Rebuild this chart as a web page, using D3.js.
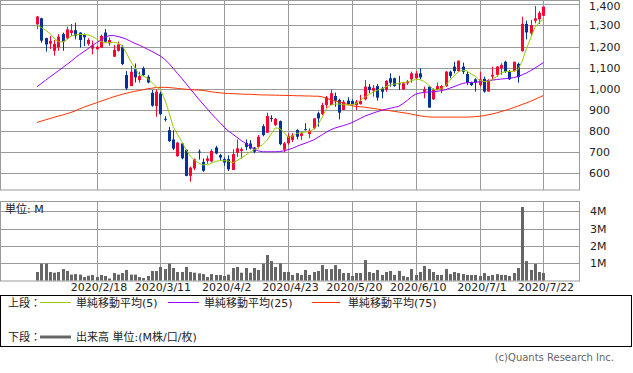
<!DOCTYPE html>
<html><head><meta charset="utf-8">
<script src="https://cdn.jsdelivr.net/npm/d3@7"></script>
<style>
html,body{margin:0;padding:0;background:#fff;}
svg{display:block;}
text{font-family:"DejaVu Sans","Noto Sans CJK JP",sans-serif;}
</style></head>
<body>
<svg id="c" width="633" height="373"></svg>
<script>
// ---- data ----
const tickLabels = ["2020/2/18","2020/3/11","2020/4/2","2020/4/23","2020/5/20","2020/6/10","2020/7/1","2020/7/22"];
const tickIndex  = [14,29,44,59,74,89,104,119];
const priceTicks = [600,700,800,900,1000,1100,1200,1300,1400];
const volTicks   = [1,2,3,4];

const open  = [1305,1334,1240,1214,1180,1196,1259,1239,1264,1278,1266,1255,1212,1190,1187,1195,1266,1215,1152,1180,
               1199,1065,1013,1093,1041,1097,1057,981,918,978,858,804,760,681,741,711,588,623,703,654,
               659,656,722,686,667,667,616,697,706,744,741,722,725,823,792,862,828,847,712,742,
               758,805,777,809,786,813,884,881,923,923,966,947,900,944,942,923,928,950,1010,991,
               1013,1002,994,1050,1050,1026,997,1026,1045,1050,1073,986,1010,950,994,997,1013,1081,1105,1084,
               1105,1070,1029,1045,1018,1047,987,1058,1066,1097,1128,1081,1084,1118,1179,1307,1262,1322,1329,1346];
const high  = [1345,1336,1242,1250,1231,1259,1266,1294,1307,1313,1268,1262,1239,1228,1203,1256,1283,1243,1207,1223,
               1207,1084,1109,1120,1081,1105,1065,994,997,986,870,820,804,749,745,714,632,670,713,670,
               683,714,730,691,675,685,714,760,722,760,757,725,781,832,887,875,862,850,748,790,
               790,808,797,837,813,860,892,934,966,997,982,953,947,960,950,947,971,1042,1023,1018,
               1023,1010,1042,1073,1053,1061,1031,1042,1081,1084,1097,1010,1010,1002,1029,1018,1084,1086,1128,1133,
               1124,1081,1034,1050,1081,1058,1045,1105,1108,1121,1133,1089,1128,1124,1341,1323,1326,1392,1368,1389];
const low   = [1282,1218,1176,1188,1157,1180,1180,1234,1250,1234,1195,1202,1204,1163,1186,1194,1220,1204,1152,1176,
               1112,994,1013,1030,1029,1060,1026,915,868,875,845,749,710,678,666,586,560,615,665,607,
               645,651,690,659,635,611,616,678,670,710,713,695,717,775,792,844,825,733,700,735,
               748,761,758,802,766,808,821,876,908,923,915,855,900,923,920,900,925,945,979,963,
               944,955,986,1010,1010,994,994,1018,1029,1045,1045,955,911,947,994,979,1010,1050,1073,1081,
               1070,1018,1013,987,1010,982,987,1042,1058,1066,1076,1042,1081,1029,1176,1234,1250,1310,1307,1345];
const close = [1342,1228,1210,1226,1212,1247,1223,1281,1277,1251,1231,1244,1231,1206,1199,1251,1223,1231,1184,1210,
               1117,1002,1081,1054,1060,1065,1030,920,986,880,855,752,717,745,671,588,627,666,700,612,
               670,706,694,675,651,619,691,718,714,725,717,702,773,781,871,858,858,738,742,777,
               780,773,789,807,802,860,860,923,960,979,944,887,939,928,926,939,942,1010,994,1005,
               958,986,1037,1029,1013,1021,1026,1034,1073,1073,1054,997,911,994,1013,1013,1081,1061,1084,1133,
               1081,1029,1018,1029,1045,987,1042,1066,1105,1113,1081,1045,1128,1055,1307,1267,1302,1333,1360,1389];
const volume = [0.50,0.98,0.98,0.50,0.46,0.50,0.67,0.56,0.35,0.38,
                0.35,0.21,0.29,0.33,0.21,0.33,0.27,0.13,0.44,0.35,
                0.44,0.62,0.35,0.35,0.21,0.15,0.27,0.56,0.56,0.79,
                0.67,0.98,0.73,0.50,0.50,0.79,0.50,0.46,0.42,0.38,
                0.21,0.38,0.33,0.33,0.27,0.35,0.73,0.79,0.46,0.73,
                0.46,0.73,0.62,0.98,1.48,1.13,0.79,1.00,0.50,0.50,
                0.33,0.44,0.33,0.62,0.33,0.50,0.56,0.90,0.67,0.67,
                0.90,0.67,0.44,0.44,0.27,0.44,0.44,1.19,0.50,0.44,
                0.62,0.33,0.50,0.56,0.33,0.56,0.27,0.21,0.67,0.33,
                0.50,0.85,0.67,0.50,0.33,0.33,0.67,0.38,0.50,0.44,
                0.38,0.33,0.33,0.33,0.27,0.44,0.27,0.33,0.38,0.33,
                0.33,0.27,0.44,0.73,4.25,1.13,0.62,0.96,0.50,0.44];
const ma5  = [1302,1290,1277,1263,1240,1223,1222,1232,1250,1256,1258,1257,1255,1248,1236,1223,1218,1219,1220,1216,
              1205,1170,1130,1100,1068,1060,1050,1030,1010,995,950,890,820,785,750,712,682,662,648,640,
              640,648,657,660,660,658,650,660,672,685,700,712,722,735,755,785,815,812,795,770,
              776,789,792,795,797,810,830,865,905,922,928,928,925,923,925,930,945,960,972,985,
              993,1000,1010,1018,1022,1026,1030,1032,1038,1045,1043,1035,1018,1000,994,1000,1015,1040,1062,1080,
              1088,1085,1070,1060,1040,1034,1036,1045,1058,1075,1081,1082,1083,1090,1130,1190,1240,1290,1315,1329];
const ma25 = [1010,1025,1040,1055,1070,1085,1100,1115,1130,1147,1162,1176,1190,1205,1218,1231,1245,1252,1252,1248,
              1242,1235,1225,1215,1207,1197,1187,1177,1166,1155,1140,1120,1097,1073,1050,1025,1000,976,951,928,
              905,882,860,840,818,800,785,770,755,742,728,715,706,702,702,702,702,703,706,712,
              718,727,735,742,750,758,770,782,795,806,814,820,826,832,840,850,860,870,878,885,
              892,898,903,908,912,917,930,945,962,975,980,983,985,986,988,991,996,1003,1010,1018,
              1025,1029,1030,1031,1033,1035,1038,1041,1044,1046,1048,1050,1053,1058,1066,1075,1086,1098,1111,1124];
const ma75 = [841,847,853,859,865,871,876,882,888,896,905,913,920,927,934,941,948,955,962,968,
              974,979,984,988,992,996,1000,1003,1006,1007,1007,1006,1004,1002,1000,998,996,995,994,992,
              989,986,983,981,979,978,977,976,975,974,974,973,972,971,971,970,970,969,969,968,
              968,967,967,966,966,965,965,962,955,948,942,938,932,926,920,916,915,913,910,907,
              904,901,899,896,893,890,887,884,880,876,872,869,867,866,866,866,866,866,866,866,
              866,866,867,868,870,873,877,881,886,892,898,904,911,918,926,933,941,950,959,968];

// ---- drawing ----
const svg = d3.select("#c");
svg.append("rect").attr("width",633).attr("height",373).attr("fill","#fff");
const GRID = "#9a9a9a", UP = "#ff0033", DOWN = "#003399", TXT = "#222";
const idx = d3.range(close.length);

const x = d3.scaleLinear().domain([0,119]).range([37,543.4]);
const y = d3.scaleLinear().domain([600,1400]).range([173.3,4.3]);
const yv = d3.scaleLinear().domain([0,4]).range([280.67,211.33]);
const px = i => Math.round(x(i));

// upper panel
const up = svg.append("g");
up.append("g").selectAll("line").data(priceTicks).join("line")
  .attr("x1",0).attr("x2",580).attr("y1",d=>Math.round(y(d))+0.5).attr("y2",d=>Math.round(y(d))+0.5)
  .attr("stroke",GRID);
up.append("g").selectAll("line").data(tickIndex).join("line")
  .attr("x1",d=>px(d)+0.5).attr("x2",d=>px(d)+0.5).attr("y1",0).attr("y2",190)
  .attr("stroke",GRID);
up.append("rect").attr("x",0.5).attr("y",0.5).attr("width",579).attr("height",189.5)
  .attr("fill","none").attr("stroke",GRID);

// price axis labels
const yAxis = d3.axisRight(y).tickValues(priceTicks).tickFormat(d3.format(",")).tickSize(0).tickPadding(0);
const ya = svg.append("g").attr("transform","translate(589,0)").call(yAxis);
ya.select(".domain").remove();
ya.selectAll("text").attr("font-size",11).attr("fill",TXT).attr("font-family","DejaVu Sans");
// keep the top label inside the picture
ya.selectAll(".tick").filter(d=>d===1400).select("text").attr("dy","0.45em");

// candles
const cg = up.append("g");
cg.selectAll("line").data(idx).join("line")
  .attr("x1",i=>px(i)+0.5).attr("x2",i=>px(i)+0.5)
  .attr("y1",i=>y(high[i])).attr("y2",i=>y(low[i]))
  .attr("stroke",i=>close[i]>=open[i]?UP:DOWN);
cg.selectAll("rect").data(idx).join("rect")
  .attr("x",i=>px(i)-1).attr("width",3)
  .attr("y",i=>y(Math.max(open[i],close[i])))
  .attr("height",i=>Math.max(1,Math.abs(y(open[i])-y(close[i]))))
  .attr("fill",i=>close[i]>=open[i]?UP:DOWN);

// moving averages
const line = arr => d3.line().x(i=>x(i)).y(i=>y(arr[i]))(idx);
up.append("path").attr("d",line(ma75)).attr("fill","none").attr("stroke","#ff3300").attr("stroke-width",1);
up.append("path").attr("d",line(ma25)).attr("fill","none").attr("stroke","#9900ff").attr("stroke-width",1);
up.append("path").attr("d",line(ma5)).attr("fill","none").attr("stroke","#99cc00").attr("stroke-width",1);

// volume panel
const vp = svg.append("g");
vp.append("g").selectAll("line").data(volTicks).join("line")
  .attr("x1",0).attr("x2",580).attr("y1",d=>Math.round(yv(d))+0.5).attr("y2",d=>Math.round(yv(d))+0.5)
  .attr("stroke",GRID);
vp.append("g").selectAll("line").data(tickIndex).join("line")
  .attr("x1",d=>px(d)+0.5).attr("x2",d=>px(d)+0.5).attr("y1",201).attr("y2",281)
  .attr("stroke",GRID);
vp.append("g").selectAll("rect").data(idx).join("rect")
  .attr("x",i=>px(i)-1).attr("width",3)
  .attr("y",i=>yv(volume[i])).attr("height",i=>yv(0)-yv(volume[i]))
  .attr("fill","#666");
vp.append("rect").attr("x",0.5).attr("y",201.5).attr("width",579).attr("height",79.5)
  .attr("fill","none").attr("stroke",GRID);
vp.append("text").attr("x",5).attr("y",209).attr("dy","0.35em").attr("font-size",11).attr("fill",TXT)
  .text("単位: M");

const vAxis = d3.axisRight(yv).tickValues(volTicks).tickFormat(d=>d+"M").tickSize(0).tickPadding(0);
const va = svg.append("g").attr("transform","translate(590,0)").call(vAxis);
va.select(".domain").remove();
va.selectAll("text").attr("font-size",11).attr("fill",TXT).attr("font-family","DejaVu Sans");

// date labels
const xAxis = d3.axisBottom(x).tickValues(tickIndex).tickFormat((d,k)=>tickLabels[k]).tickSize(0).tickPadding(0);
const xa = svg.append("g").attr("transform","translate(2,283)").call(xAxis);
xa.select(".domain").remove();
xa.selectAll("text").attr("font-size",11).attr("fill",TXT).attr("font-family","DejaVu Sans");

// legend box
const lg = svg.append("g");
lg.append("rect").attr("x",0.5).attr("y",295.5).attr("width",631).attr("height",51)
  .attr("fill","none").attr("stroke","#000");
const legItems = [
  {x1:40,x2:71,tx:76,label:"単純移動平均(5)",color:"#99cc00"},
  {x1:168,x2:199,tx:204,label:"単純移動平均(25)",color:"#9900ff"},
  {x1:312,x2:340,tx:348,label:"単純移動平均(75)",color:"#ff3300"}
];
lg.append("text").attr("x",8).attr("y",303).attr("dy","0.35em").attr("font-size",11).attr("fill",TXT).text("上段：");
legItems.forEach(d=>{
  lg.append("line").attr("x1",d.x1).attr("x2",d.x2).attr("y1",302.5).attr("y2",302.5).attr("stroke",d.color);
  lg.append("text").attr("x",d.tx).attr("y",303).attr("dy","0.35em").attr("font-size",11).attr("fill",TXT).text(d.label);
});
lg.append("text").attr("x",8).attr("y",337).attr("dy","0.35em").attr("font-size",11).attr("fill",TXT).text("下段：");
lg.append("line").attr("x1",40).attr("x2",71).attr("y1",337).attr("y2",337).attr("stroke","#666").attr("stroke-width",3);
lg.append("text").attr("x",76).attr("y",337).attr("dy","0.35em").attr("font-size",11).attr("fill",TXT).text("出来高 単位:(M株/口/枚)");

svg.append("text").attr("x",614).attr("y",357).attr("dy","0.35em").attr("text-anchor","end")
  .attr("font-size",10).attr("fill","#666").text("(c)Quants Research Inc.");
</script>
</body></html>
